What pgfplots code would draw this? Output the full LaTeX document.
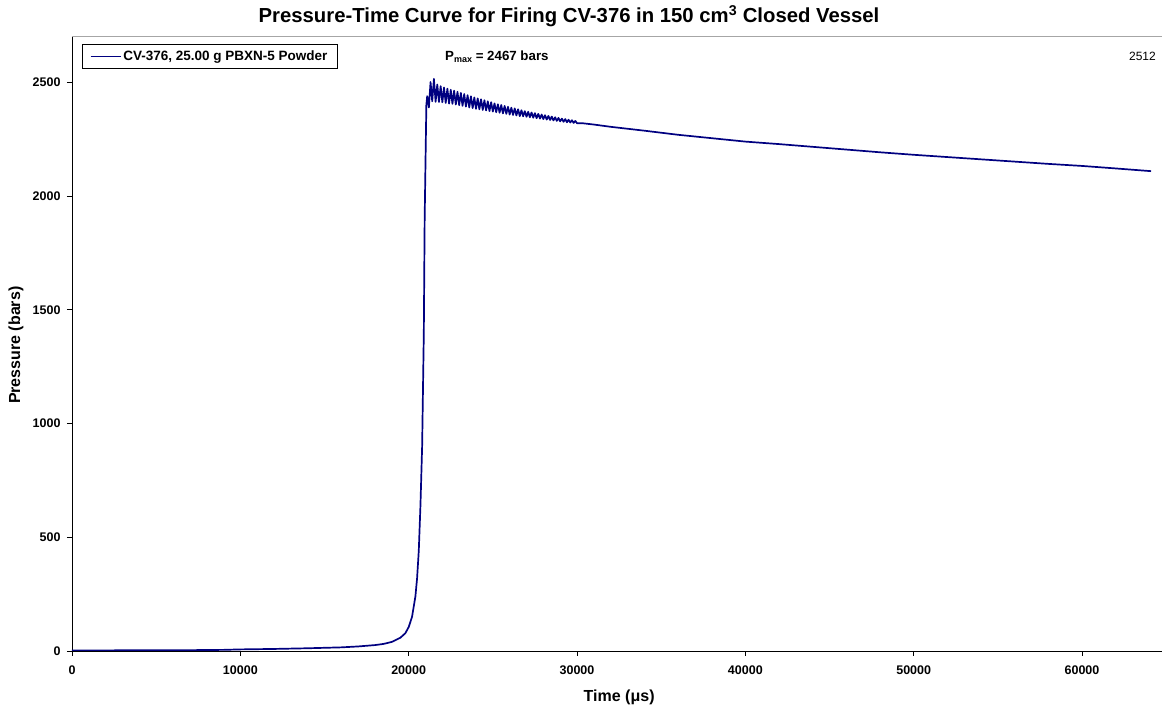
\documentclass[border=0pt]{standalone}
\usepackage{pgfplots}
\pgfplotsset{compat=1.18}
\usepackage{fontspec}
\setmainfont{Liberation Sans}
\definecolor{navy}{RGB}{0,0,128}
\begin{document}
\begin{tikzpicture}
\path[use as bounding box] (-72pt,-60pt) rectangle (1090pt,651pt);
\begin{axis}[
  at={(0,0)}, anchor=south west,
  scale only axis, width=1090pt, height=614pt,
  xmin=0, xmax=64750, ymin=0, ymax=2700,
  xtick={0,10000,...,60000}, ytick={0,500,...,2500},
  scaled ticks=false,
  /pgf/number format/set thousands separator={},
  /pgf/number format/assume math mode=true,
  ticklabel style={font=\bfseries\fontsize{12.5}{14}\selectfont},
  axis x line*=bottom, axis y line*=left,
  axis line style={black, line width=0.9pt, -},
  tick style={black, line width=0.8pt},
  tick align=outside, major tick length=5pt,
  xticklabel style={yshift=-6pt},
  yticklabel style={xshift=-3pt},
  xlabel={Time (μs)}, ylabel={Pressure (bars)},
  label style={font=\bfseries\fontsize{16}{18}\selectfont},
  xlabel style={at={(axis description cs:0.502,-0.0749)}, anchor=center},
  ylabel style={at={(axis description cs:-0.0514,0.498)}, anchor=center},
  legend style={at={(axis description cs:0.0089,0.9886)}, anchor=north west,
    draw=black, line width=0.6pt, font=\bfseries\fontsize{13.5}{15}\selectfont,
    inner xsep=8pt, inner ysep=4.5pt},
  legend cell align=left,
  legend image code/.code={\draw[#1, line width=1.3pt] (0pt,0pt) -- (30pt,0pt);},
  clip mode=individual,
]
\addplot[navy, line width=1.7pt, line join=round] coordinates {
(0,2) (3000,3) (6000,3) (9000,5) (10000,7) (12000,9) (14000,12) (16000,16)
(17000,20) (18000,26) (18500,31) (19000,40) (19500,58) (19800,78) (20000,105)
(20200,150) (20400,240) (20500,320) (20600,440) (20700,640) (20800,900)
(20900,1400) (20950,1900) (21000,2150) (21050,2400) (21100,2440) (21200,2390)
(21300,2502) (21400,2417) (21500,2516) (21600,2415) (21700,2491) (21800,2414)
(21900,2484) (22000,2413) (22100,2478) (22200,2410) (22300,2473) (22400,2407)
(22500,2468) (22600,2406) (22700,2464) (22800,2403) (22900,2459) (23000,2400)
(23100,2454) (23200,2397) (23300,2449) (23400,2394) (23500,2444) (23600,2390)
(23700,2439) (23800,2387) (23900,2434) (24000,2384) (24100,2430) (24200,2382)
(24300,2426) (24400,2379) (24500,2422) (24600,2377) (24700,2417) (24800,2374)
(24900,2413) (25000,2372) (25100,2408) (25200,2369) (25300,2404) (25400,2367)
(25500,2401) (25600,2364) (25700,2397) (25800,2362) (25900,2393) (26000,2359)
(26100,2389) (26200,2357) (26300,2386) (26400,2355) (26500,2382) (26600,2352)
(26700,2378) (26800,2351) (26900,2374) (27000,2349) (27100,2371) (27200,2347)
(27300,2368) (27400,2345) (27500,2365) (27600,2343) (27700,2362) (27800,2341)
(27900,2359) (28000,2339) (28100,2356) (28200,2337) (28300,2353) (28400,2335)
(28500,2350) (28600,2333) (28700,2347) (28800,2331) (28900,2344) (29000,2329)
(29100,2341) (29200,2327) (29300,2339) (29400,2325) (29500,2336) (29600,2324)
(29700,2334) (29800,2322) (29900,2331) (30000,2321) (30300,2321) (31000,2315)
(32000,2305) (34000,2288) (36000,2270) (38000,2255) (40000,2240) (42000,2229)
(44000,2217) (46000,2205) (48000,2193) (50000,2182) (52000,2172) (54000,2162)
(56000,2152) (58000,2142) (60000,2133) (62000,2122) (64100,2110)
};
\addlegendentry{CV-376, 25.00 g PBXN-5 Powder}
\draw[gray!70, line width=1pt] (rel axis cs:0,1) -- (rel axis cs:1,1);
\node[anchor=base, font=\bfseries\fontsize{20.3}{23}\selectfont] at (axis description cs:0.456,1.0228)
  {Pressure-Time Curve for Firing CV-376 in 150 cm\textsuperscript{3} Closed Vessel};
\node[anchor=base west, font=\bfseries\fontsize{13.3}{15}\selectfont, inner sep=0pt] at (axis description cs:0.3422,0.9625)
  {P\raisebox{-0.4ex}{\fontsize{9}{10}\selectfont max} = 2467 bars};
\node[anchor=base east, font=\fontsize{12}{14}\selectfont, inner sep=0pt] at (axis description cs:0.9945,0.9625) {2512};
\end{axis}
\end{tikzpicture}
\end{document}
